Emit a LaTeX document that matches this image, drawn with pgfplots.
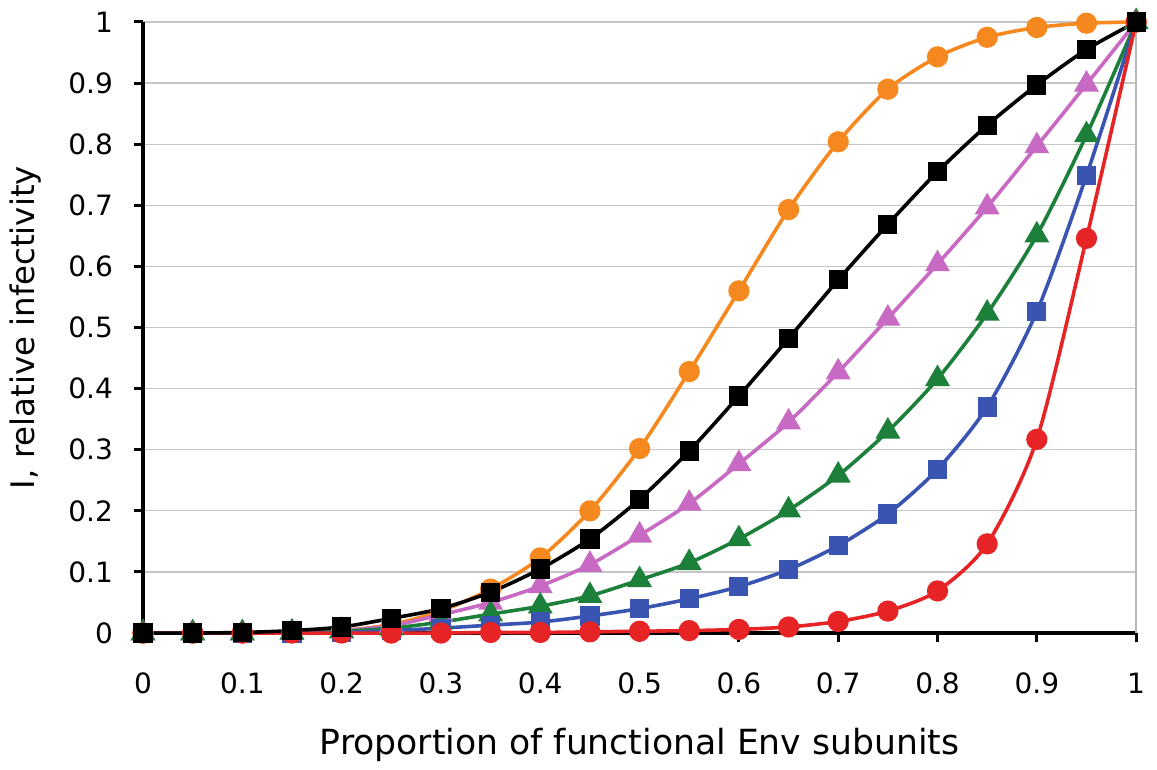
\documentclass[border=0pt]{standalone}
\usepackage{fontspec}
\setmainfont{DejaVu Sans}
\usepackage{pgfplots}
\pgfplotsset{compat=1.18}

\definecolor{corange}{RGB}{245,137,31}
\definecolor{cmagenta}{RGB}{200,105,195}
\definecolor{cgreen}{RGB}{28,128,58}
\definecolor{cblue}{RGB}{58,84,178}
\definecolor{cred}{RGB}{230,36,38}

\begin{document}
\begin{tikzpicture}
\begin{axis}[
    scale only axis,
    width=496.5pt, height=305.5pt,
    xmin=0, xmax=1, ymin=0, ymax=1,
    xtick={0,0.1,...,1}, ytick={0,0.1,...,1},
    xticklabels={0,0.1,0.2,0.3,0.4,0.5,0.6,0.7,0.8,0.9,1},
    yticklabels={0,0.1,0.2,0.3,0.4,0.5,0.6,0.7,0.8,0.9,1},
    axis lines=left,
    axis line style={-, line width=1.8pt, black},
    tick align=outside,
    major tick length=4.5pt,
    tick style={line width=1.5pt, black},
    ymajorgrids,
    major grid style={gray!45, line width=0.6pt},
    clip=false,
    ticklabel style={font=\fontsize{14}{16}\selectfont},
    xticklabel style={yshift=-12pt},
    yticklabel style={xshift=-7pt},
    /pgf/number format/assume math mode=true,
    xlabel={Proportion of functional Env subunits},
    ylabel={I, relative infectivity},
    xlabel style={at={(axis description cs:0.5,-0.183)}, anchor=center, font=\fontsize{17.3}{20}\selectfont},
    ylabel style={at={(axis description cs:-0.118,0.5)}, anchor=center, font=\fontsize{16.2}{19}\selectfont},
    every axis plot/.append style={line width=1.8pt, smooth, tension=0.45},
]
\path (rel axis cs:-0.144,-0.2226) rectangle (rel axis cs:1.021,1.036);
\draw[gray!55, line width=0.8pt] (axis cs:1,0) -- (axis cs:1,1);

% orange circles
\addplot[color=corange, mark=*, mark size=4.4pt] coordinates {
(0,0) (0.05,0) (0.1,0.0002) (0.15,0.001) (0.2,0.004) (0.25,0.014) (0.3,0.036)
(0.35,0.072) (0.4,0.123) (0.45,0.2) (0.5,0.302) (0.55,0.428) (0.6,0.56)
(0.65,0.693) (0.7,0.804) (0.75,0.89) (0.8,0.943) (0.85,0.975) (0.9,0.991)
(0.95,0.998) (1,1)
};
% magenta triangles
\addplot[color=cmagenta, mark=triangle*, mark size=5.4pt] coordinates {
(0,0) (0.05,0) (0.1,0) (0.15,0.001) (0.2,0.004) (0.25,0.012) (0.3,0.03)
(0.35,0.05) (0.4,0.077) (0.45,0.112) (0.5,0.16) (0.55,0.212) (0.6,0.277)
(0.65,0.345) (0.7,0.427) (0.75,0.515) (0.8,0.604) (0.85,0.697) (0.9,0.797)
(0.95,0.898) (1,1)
};
% green triangles
\addplot[color=cgreen, mark=triangle*, mark size=5.4pt] coordinates {
(0,0) (0.05,0) (0.1,0) (0.15,0.001) (0.2,0.003) (0.25,0.008) (0.3,0.018)
(0.35,0.031) (0.4,0.044) (0.45,0.061) (0.5,0.087) (0.55,0.115) (0.6,0.154)
(0.65,0.201) (0.7,0.258) (0.75,0.33) (0.8,0.416) (0.85,0.523) (0.9,0.651)
(0.95,0.815) (1,1)
};
% blue squares
\addplot[color=cblue, mark=square*, mark size=3.9pt] coordinates {
(0,0) (0.05,0) (0.1,0) (0.15,0) (0.2,0.001) (0.25,0.004) (0.3,0.008)
(0.35,0.013) (0.4,0.018) (0.45,0.028) (0.5,0.04) (0.55,0.056) (0.6,0.076)
(0.65,0.104) (0.7,0.143) (0.75,0.195) (0.8,0.268) (0.85,0.37) (0.9,0.526)
(0.95,0.749) (1,1)
};
% red circles
\addplot[color=cred, mark=*, mark size=4.4pt] coordinates {
(0,0) (0.05,0) (0.1,0) (0.15,0) (0.2,0) (0.25,0) (0.3,0)
(0.35,0.001) (0.4,0.001) (0.45,0.002) (0.5,0.003) (0.55,0.004) (0.6,0.006)
(0.65,0.01) (0.7,0.019) (0.75,0.036) (0.8,0.069) (0.85,0.146) (0.9,0.317)
(0.95,0.646) (1,1)
};
% black squares
\addplot[color=black, mark=square*, mark size=3.9pt] coordinates {
(0,0) (0.05,0) (0.1,0.001) (0.15,0.004) (0.2,0.01) (0.25,0.024) (0.3,0.04)
(0.35,0.067) (0.4,0.105) (0.45,0.154) (0.5,0.219) (0.55,0.298) (0.6,0.388)
(0.65,0.482) (0.7,0.578) (0.75,0.669) (0.8,0.755) (0.85,0.831) (0.9,0.897)
(0.95,0.955) (1,1)
};
\end{axis}
\end{tikzpicture}
\end{document}
